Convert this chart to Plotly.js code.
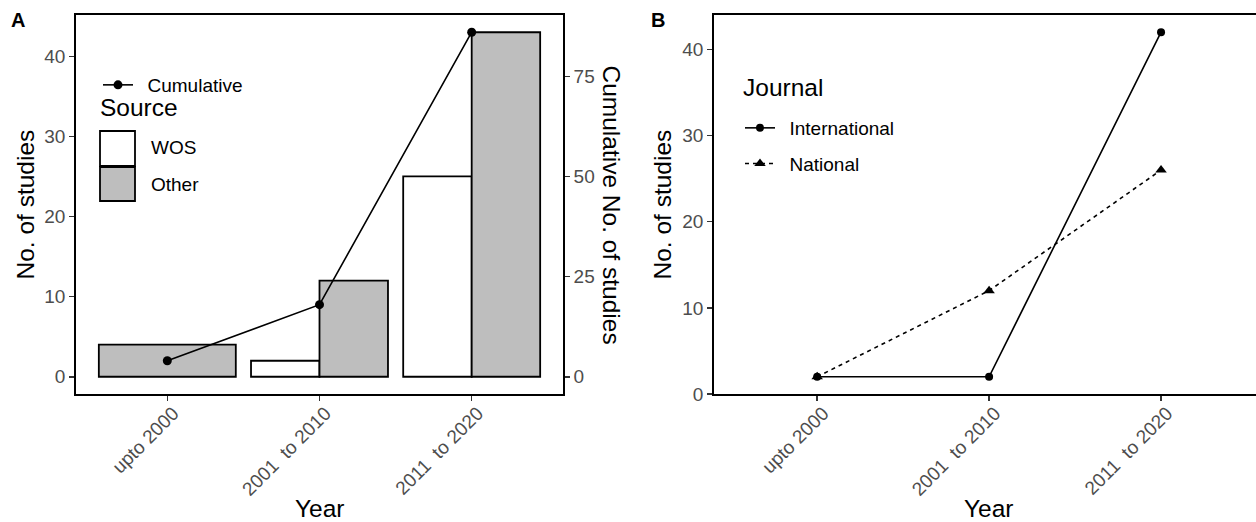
<!DOCTYPE html>
<html>
<head>
<meta charset="utf-8">
<script src="https://cdn.plot.ly/plotly-3.0.1.min.js"></script>
<style>html,body{margin:0;padding:0;background:#fff;}#chart{width:1256px;height:522px;}</style>
</head>
<body>
<div id="chart"></div>
<script>
// ---- data ----
var years = ["upto 2000", "2001\u00A0 to 2010", "2011\u00A0 to 2020"];
var wos = [null, 2, 25];
var other = [4, 12, 43];
var cumulative = [4, 18, 86];
var international = [2, 2, 42];
var national = [2, 12, 26];
var leftTicks = [0, 10, 20, 30, 40];
var rightTicks = [0, 25, 50, 75];

// ---- helpers ----
var W = 1256, H = 522;
function px(x) { return x / W; }
function py(y) { return 1 - y / H; }
var FONT = "Liberation Sans, Arial, Helvetica, sans-serif";
var tickFont = {family: FONT, size: 19, color: "#4D4D4D"};
var titleFont = {family: FONT, size: 24.5, color: "#000"};
var legFont = {family: FONT, size: 19, color: "#000"};
var GAP = "\u2002";

var traces = [
  {
    type: "bar", name: "WOS", x: years, y: wos,
    xaxis: "x", yaxis: "y",
    width: 0.45, offset: -0.45,
    marker: {color: "#FFFFFF", line: {color: "#000", width: 1.8}},
    showlegend: false, hoverinfo: "x+y"
  },
  {
    type: "bar", name: "Other", x: years, y: other,
    xaxis: "x", yaxis: "y",
    width: [0.9, 0.45, 0.45], offset: [-0.45, 0, 0],
    marker: {color: "#BEBEBE", line: {color: "#000", width: 1.8}},
    showlegend: false, hoverinfo: "x+y"
  },
  {
    type: "scatter", mode: "lines+markers", name: GAP + "Cumulative",
    x: years, y: cumulative, xaxis: "x", yaxis: "y3",
    line: {color: "#000", width: 1.6},
    marker: {color: "#000", size: 9, symbol: "circle"},
    legend: "legend"
  },
  {
    type: "scatter", mode: "lines+markers", name: GAP + "International",
    x: years, y: international, xaxis: "x2", yaxis: "y2",
    line: {color: "#000", width: 1.6, dash: "solid"},
    marker: {color: "#000", size: 8, symbol: "circle"},
    legend: "legend2", legendgroup: "a"
  },
  {
    type: "scatter", mode: "lines+markers", name: GAP + "National",
    x: years, y: national, xaxis: "x2", yaxis: "y2",
    line: {color: "#000", width: 1.6, dash: "4px,4px"},
    marker: {color: "#000", size: 10, symbol: "triangle-up"},
    legend: "legend2", legendgroup: "b"
  }
];

var axisCommon = {
  showline: true, linecolor: "#000", linewidth: 1.8,
  ticks: "outside", ticklen: 5, tickwidth: 1.5, tickcolor: "#333",
  tickfont: tickFont, showgrid: false, zeroline: false, fixedrange: true
};
var xTickStyle = {tickangle: -45, ticklabelstandoff: -6, ticklabelshift: 6};

var layout = {
  width: W, height: H,
  margin: {l: 0, r: 0, t: 0, b: 0},
  paper_bgcolor: "#fff", plot_bgcolor: "rgba(0,0,0,0)",
  barmode: "overlay",
  font: {family: FONT},
  xaxis: Object.assign({}, axisCommon, xTickStyle, {
    domain: [px(76), px(563)], anchor: "y", type: "category",
    categoryorder: "array", categoryarray: years,
    range: [-0.6, 2.6], mirror: true
  }),
  yaxis: Object.assign({}, axisCommon, {
    domain: [py(394), py(15)], anchor: "x",
    range: [-2.15, 45.15], tickvals: leftTicks
  }),
  yaxis3: Object.assign({}, axisCommon, {
    overlaying: "y", side: "right", anchor: "x",
    range: [-4.3, 90.3], tickvals: rightTicks
  }),
  xaxis2: Object.assign({}, axisCommon, xTickStyle, {
    domain: [px(714), 1], anchor: "y2", type: "category",
    categoryorder: "array", categoryarray: years,
    range: [-0.6, (W - 817) / 172], mirror: true
  }),
  yaxis2: Object.assign({}, axisCommon, {
    domain: [py(394), py(15)], anchor: "x2",
    range: [0, 44], tickvals: leftTicks
  }),
  legend: {
    x: px(98), y: py(85), xanchor: "left", yanchor: "middle",
    bgcolor: "rgba(0,0,0,0)", font: legFont, itemwidth: 30
  },
  legend2: {
    x: px(740), y: py(146), xanchor: "left", yanchor: "middle",
    bgcolor: "rgba(0,0,0,0)", font: legFont, itemwidth: 30,
    traceorder: "grouped", tracegroupgap: 8
  },
  shapes: [
    {type: "rect", xref: "paper", yref: "paper",
     x0: px(100), x1: px(135), y0: py(166), y1: py(131),
     fillcolor: "#FFFFFF", line: {color: "#000", width: 1.8}},
    {type: "rect", xref: "paper", yref: "paper",
     x0: px(100), x1: px(135), y0: py(201), y1: py(167),
     fillcolor: "#BEBEBE", line: {color: "#000", width: 1.8}}
  ],
  annotations: [
    {text: "<b>A</b>", x: px(9), y: py(20), xref: "paper", yref: "paper",
     xanchor: "left", yanchor: "middle", showarrow: false,
     font: {family: FONT, size: 20, color: "#000"}},
    {text: "<b>B</b>", x: px(649), y: py(20), xref: "paper", yref: "paper",
     xanchor: "left", yanchor: "middle", showarrow: false,
     font: {family: FONT, size: 20, color: "#000"}},
    {text: "Source", x: px(98), y: py(108), xref: "paper", yref: "paper",
     xanchor: "left", yanchor: "middle", showarrow: false, font: titleFont},
    {text: "WOS", x: px(149), y: py(148), xref: "paper", yref: "paper",
     xanchor: "left", yanchor: "middle", showarrow: false, font: legFont},
    {text: "Other", x: px(149), y: py(184), xref: "paper", yref: "paper",
     xanchor: "left", yanchor: "middle", showarrow: false, font: legFont},
    {text: "Journal", x: px(741), y: py(88), xref: "paper", yref: "paper",
     xanchor: "left", yanchor: "middle", showarrow: false, font: titleFont},
    {text: "No. of studies", x: px(25), y: py(204.5), xref: "paper", yref: "paper",
     textangle: -90, xanchor: "center", yanchor: "middle", showarrow: false, font: titleFont},
    {text: "Cumulative No. of studies", x: px(611), y: py(204.5), xref: "paper", yref: "paper",
     textangle: 90, xanchor: "center", yanchor: "middle", showarrow: false, font: titleFont},
    {text: "Year", x: px(319.5), y: py(508.5), xref: "paper", yref: "paper",
     xanchor: "center", yanchor: "middle", showarrow: false, font: titleFont},
    {text: "No. of studies", x: px(662), y: py(204.5), xref: "paper", yref: "paper",
     textangle: -90, xanchor: "center", yanchor: "middle", showarrow: false, font: titleFont},
    {text: "Year", x: px(989), y: py(508.5), xref: "paper", yref: "paper",
     xanchor: "center", yanchor: "middle", showarrow: false, font: titleFont}
  ]
};

Plotly.newPlot("chart", traces, layout, {displayModeBar: false, staticPlot: true});
</script>
</body>
</html>
